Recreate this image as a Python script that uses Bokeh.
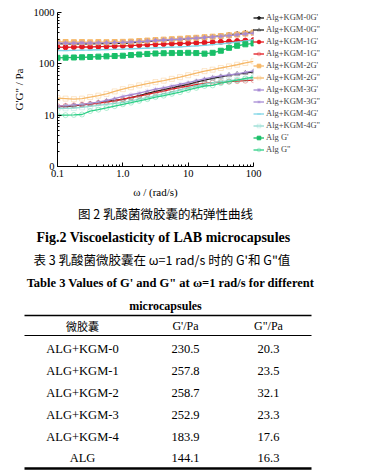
from bokeh.plotting import figure
from bokeh.models import (Range1d, FixedTicker, Legend, LegendItem, ColumnDataSource)
from bokeh.embed import file_html
from bokeh.resources import INLINE
from bokeh.core.properties import value

# ---------------- data ----------------
omega = [0.1, 0.133, 0.178, 0.237, 0.316, 0.422, 0.562, 0.75, 1.0, 1.33, 1.78, 2.37, 3.16,
         4.22, 5.62, 7.5, 10.0, 13.3, 17.8, 23.7, 31.6, 42.2, 56.2, 75.0, 100.0]

kgm0_g1 = [248, 246, 244, 247, 245, 247, 248, 250, 252, 257, 264, 271, 279, 286, 293, 300, 308,
           317, 327, 339, 352, 367, 383, 402, 420]
kgm0_g2 = [14.5, 14.8, 15.2, 15.8, 16.5, 17.5, 18.5, 19.5, 20.3, 22, 24, 26.5, 29, 31.5, 34, 37,
           40, 44, 48, 52, 56, 60, 63, 66, 70]
kgm1_g1 = [212, 210, 212, 214, 213, 216, 218, 221, 224, 227, 231, 235, 239, 243, 246, 249, 252,
           256, 260, 264, 268, 273, 278, 284, 290]
kgm1_g2 = [15, 15.2, 15.5, 16, 16.5, 17.2, 18, 19, 20.5, 22, 23.5, 25.5, 27.5, 29.5, 32, 34.5,
           37, 39.5, 41.5, 43, 44, 45, 46, 47, 48]
kgm2_g1 = [268, 266, 264, 266, 263, 265, 264, 266, 268, 272, 278, 284, 290, 296, 302, 308, 315,
           322, 330, 338, 348, 360, 372, 388, 405]
kgm2_g2 = [21.5, 21, 20.5, 21, 22.5, 24, 26, 29, 32.1, 35, 38, 41, 44, 47, 51, 55, 60, 66, 72,
           77, 83, 89, 96, 104, 112]
kgm3_g1 = [255, 253, 252, 255, 254, 256, 257, 259, 262, 266, 272, 278, 285, 291, 297, 303, 310,
           318, 326, 334, 344, 356, 368, 382, 396]
kgm3_g2 = [15, 15.3, 15.8, 16.3, 17, 18, 19.5, 21, 23.3, 25, 27, 29.5, 32, 34, 37, 40, 43, 47,
           51, 55, 58, 61, 64, 68, 73]
kgm4_g1 = [182, 181, 183, 185, 186, 188, 189, 191, 193, 196, 199, 202, 205, 208, 211, 214, 218,
           223, 229, 236, 244, 254, 265, 278, 292]
kgm4_g2 = [13.5, 13.6, 13.8, 14.2, 14.8, 15.5, 16.2, 17, 17.6, 19, 20.5, 22, 24, 26, 28, 31, 34,
           37, 40, 43, 45, 47, 49, 50, 52]
alg_g1 = [131, 132, 133, 134, 136, 138, 140, 142, 144, 148, 152, 156, 159, 161, 162, 163, 164,
          162, 158, 164, 180, 205, 225, 240, 250]
alg_g2 = [10, 10, 10.1, 10.3, 12, 12.8, 13.8, 15, 16.3, 17.5, 19, 20.5, 22.5, 24, 26, 28, 31, 34,
          37, 38, 42, 45, 48, 52, 55]

x_ticks = [0.1, 1, 10, 100]
x_tick_labels = {0.1: "0.1", 1: "1.0", 10: "10", 100: "100"}
y_ticks = [1, 10, 100, 1000]
y_tick_labels = {1: "0", 10: "10", 100: "100", 1000: "1000"}

table_names = ["ALG+KGM-0", "ALG+KGM-1", "ALG+KGM-2", "ALG+KGM-3", "ALG+KGM-4", "ALG"]
table_gp = ["230.5", "257.8", "258.7", "252.9", "183.9", "144.1"]
table_gpp = ["20.3", "23.5", "32.1", "23.3", "17.6", "16.3"]
table_header = ["微胶囊", "G'/Pa", "G\"/Pa"]

SERIF = "Liberation Serif"
CJK = "Noto Sans CJK SC"

# ---------------- chart ----------------
p = figure(frame_width=196, frame_height=154, x_axis_type="log", y_axis_type="log",
           x_range=Range1d(0.1, 100), y_range=Range1d(1, 1000),
           output_backend="svg", toolbar_location=None,
           min_border_left=57, min_border_right=125, min_border_top=12, min_border_bottom=38)
p.outline_line_color = None
p.grid.visible = False
p.background_fill_color = None
p.border_fill_color = None

minor_x = [m * d for d in [0.1, 1, 10] for m in range(2, 10)]
minor_y = [m * d for d in [1, 10, 100] for m in range(2, 10)]
p.xaxis.ticker = FixedTicker(ticks=x_ticks, minor_ticks=minor_x)
p.yaxis.ticker = FixedTicker(ticks=y_ticks, minor_ticks=minor_y)
p.xaxis.major_label_overrides = x_tick_labels
p.yaxis.major_label_overrides = y_tick_labels
for ax in (p.xaxis, p.yaxis):
    ax.major_tick_in = 4
    ax.major_tick_out = 0
    ax.minor_tick_in = 2
    ax.minor_tick_out = 0
    ax.axis_line_color = "black"
    ax.major_tick_line_color = "black"
    ax.minor_tick_line_color = "black"
    ax.major_label_text_font = SERIF
    ax.major_label_text_font_size = "10.5px"
    ax.major_label_text_color = "black"
    ax.axis_label_text_font = SERIF
    ax.axis_label_text_font_size = "11px"
    ax.axis_label_text_font_style = "normal"
    ax.axis_label_text_color = "black"
    ax.major_label_standoff = 3
p.xaxis.axis_label = "ω / (rad/s)"
p.yaxis.axis_label = "G'G\" / Pa"
p.xaxis.axis_label_standoff = 6
p.yaxis.axis_label_standoff = 6

series = [
    ("Alg+KGM-0G'", kgm0_g1, "#111111", "star", True),
    ("Alg+KGM-0G\"", kgm0_g2, "#222222", "triangle", False),
    ("Alg+KGM-1G'", kgm1_g1, "#e3191f", "circle", True),
    ("Alg+KGM-1G\"", kgm1_g2, "#e3191f", "circle", False),
    ("Alg+KGM-2G'", kgm2_g1, "#f6b868", "square", True),
    ("Alg+KGM-2G\"", kgm2_g2, "#f6b868", "square", False),
    ("Alg+KGM-3G'", kgm3_g1, "#a68ad4", "asterisk", True),
    ("Alg+KGM-3G\"", kgm3_g2, "#a68ad4", "asterisk", False),
    ("Alg+KGM-4G'", kgm4_g1, "#7fd6e6", "dash", True),
    ("Alg+KGM-4G\"", kgm4_g2, "#93dcd2", "square", False),
    ("Alg G'", alg_g1, "#19bf68", "square", True),
    ("Alg G\"", alg_g2, "#2dcf86", "circle", False),
]

items = []
for label, ys, color, marker, filled in series:
    src = ColumnDataSource(dict(x=omega, y=ys))
    ln = p.line("x", "y", source=src, line_color=color, line_width=1.3)
    if filled:
        sc = p.scatter("x", "y", source=src, marker=marker, size=5,
                       line_color=color, fill_color=color, line_width=1)
    else:
        sc = p.scatter("x", "y", source=src, marker=marker, size=5,
                       line_color=color, fill_color=None, line_width=0.8, line_alpha=0.45)
    items.append(LegendItem(label=label, renderers=[ln, sc]))

legend = Legend(items=items, location="top_left", padding=2, margin=0, spacing=2,
                glyph_height=9, glyph_width=11, label_height=9, label_standoff=2,
                label_text_font=SERIF, label_text_font_size="8.5px",
                background_fill_alpha=0, border_line_color=None)
p.add_layout(legend, "right")

# ---------------- captions and table (page pixel coordinates) ----------------
TOP = 204
H = 268
q = figure(width=378, height=H, x_range=Range1d(0, 378), y_range=Range1d(TOP + H, TOP),
           output_backend="svg", toolbar_location=None,
           x_axis_location=None, y_axis_location=None,
           min_border=0, min_border_left=0, min_border_right=0, min_border_top=0,
           min_border_bottom=0)
q.outline_line_color = None
q.grid.visible = False
q.background_fill_color = None
q.border_fill_color = None


def txt(x, y, s, font, size, style="normal", align="center"):
    q.text(x=[x], y=[y], text=[s], text_font=value(font), text_font_size=size,
           text_font_style=style, text_align=align, text_baseline="middle", text_color="black")


txt(165, 213, "图 2 乳酸菌微胶囊的粘弹性曲线", CJK, "12.5px")
txt(163, 237, "Fig.2 Viscoelasticity of LAB microcapsules", SERIF, "14px", "bold")
txt(33, 259, "表 3 乳酸菌微胶囊在 ω=1 rad/s 时的 G'和 G\"值", CJK, "12.5px", align="left")
txt(170, 282, "Table 3 Values of G' and G\" at ω=1 rad/s for different", SERIF, "12.5px", "bold")
txt(165, 305, "microcapsules", SERIF, "12px", "bold")

# rules
q.segment(x0=[24], y0=[315], x1=[311], y1=[315], line_color="black", line_width=1.5)
q.segment(x0=[24], y0=[335], x1=[311], y1=[335], line_color="black", line_width=1)
q.segment(x0=[24], y0=[468], x1=[311], y1=[468], line_color="black", line_width=2.5)

col_x = [82, 185, 268]
txt(col_x[0], 325, table_header[0], CJK, "11px")
txt(col_x[1], 325, table_header[1], SERIF, "12px")
txt(col_x[2], 325, table_header[2], SERIF, "12px")

row_y = [348, 370, 392, 414, 436, 457]
q.text(x=[col_x[0]] * 6, y=row_y, text=table_names, text_font=value(SERIF), text_font_size="12.5px",
       text_align="center", text_baseline="middle", text_color="black")
q.text(x=[col_x[1]] * 6, y=row_y, text=table_gp, text_font=value(SERIF), text_font_size="12.5px",
       text_align="center", text_baseline="middle", text_color="black")
q.text(x=[col_x[2]] * 6, y=row_y, text=table_gpp, text_font=value(SERIF), text_font_size="12.5px",
       text_align="center", text_baseline="middle", text_color="black")

open("out.html", "w").write(file_html([p, q], INLINE))
